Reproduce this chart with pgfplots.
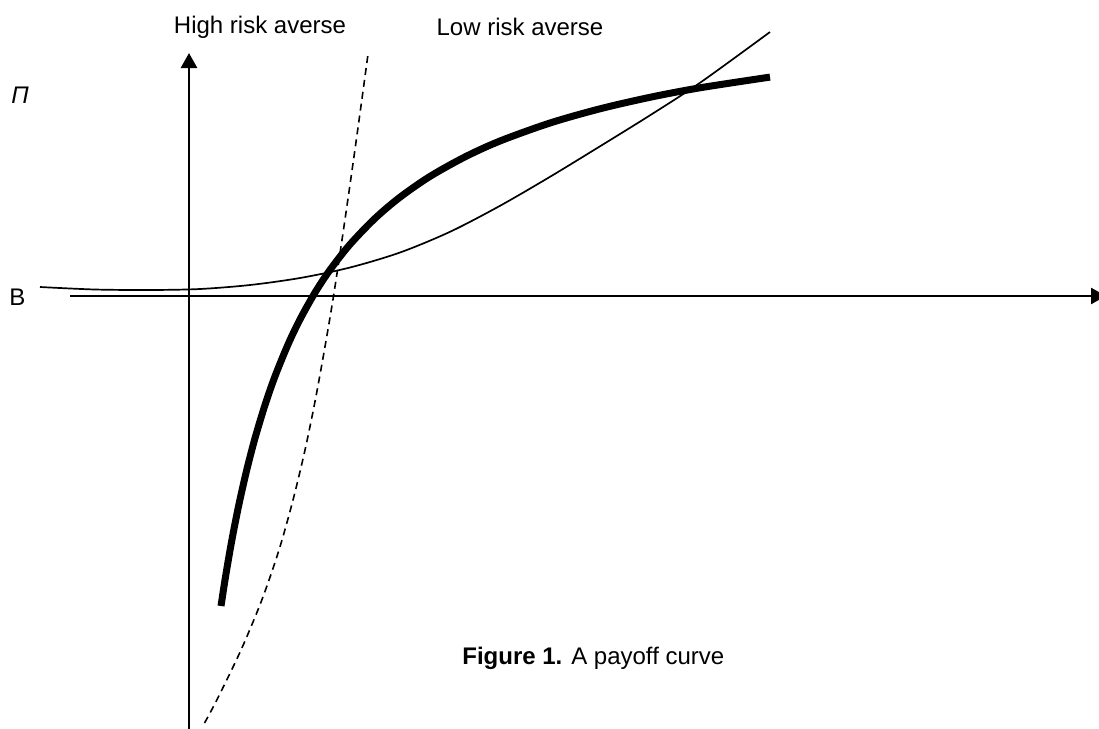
\documentclass[border=0pt]{standalone}
\usepackage{fontspec}
\setmainfont{Liberation Sans}
\usepackage{pgfplots}
\pgfplotsset{compat=1.18}
\usetikzlibrary{arrows.meta}

% curves, in pixel units (y grows downward)
\pgfplotstableread{
x y
221 606
225 580
230 550.4
235 523.7
240 499.4
247 468.9
255 438.2
265 405
275 376.3
288 344.5
300 319.4
315 292.6
330 269.9
350 244.4
375 218.4
400 197.2
430 176.4
465 156.9
500 141
550 123
600 108.8
650 97.3
700 87.8
770 77.1
}\payoff

\pgfplotstableread{
x y
40 287
95 289.5
150 290
200 289
250 285
300 278
350 267.5
400 252.5
450 231.8
500 205.8
550 176.8
600 146.3
650 115.3
700 82.8
770 32
}\lowrisk

\pgfplotstableread{
x y
204.5 723
216.8 700
241 650
261.8 600
279 550
293 500
305 450
315.3 400
324.4 350
332.9 300
340.5 250
347.8 200
354.9 150
361.8 100
367.9 55
}\highrisk

\begin{document}
\begin{tikzpicture}
\begin{axis}[
    scale only axis,
    width=549.5pt, height=364.5pt,
    xmin=0, xmax=1099, ymin=0, ymax=729,
    y dir=reverse,
    hide axis,
    clip=false]
  % axes
  \addplot[line width=1.3pt, -{Triangle[length=7.5pt,width=8pt]}]
    coordinates {(70,296) (1106,296)};
  \addplot[line width=1.3pt, -{Triangle[length=7.5pt,width=8pt]}]
    coordinates {(189,729) (189,53)};

  \addplot[smooth, line width=0.85pt] table {\lowrisk};
  \addplot[smooth, line width=0.8pt, dash pattern=on 3.5pt off 2.5pt] table {\highrisk};
  \addplot[smooth, line width=3.5pt] table {\payoff};

  \node[anchor=base, font=\fontsize{12}{14}\selectfont] at (axis cs:260,33) {High risk averse};
  \node[anchor=base, font=\fontsize{12}{14}\selectfont] at (axis cs:520,35) {Low risk averse};
  \node[anchor=base west, inner sep=0pt, font=\fontsize{12}{14}\selectfont\itshape] at (axis cs:11,103) {Π};
  \node[anchor=base west, inner sep=0pt, font=\fontsize{12}{14}\selectfont] at (axis cs:9,305) {B};
  \node[anchor=base west, inner sep=0pt, font=\fontsize{12}{14}\selectfont] at (axis cs:462,664)
    {\textbf{Figure 1.} A payoff curve};

  \coordinate (bl) at (axis cs:0,729);
  \coordinate (tr) at (axis cs:1099,0);
\end{axis}
\pgfresetboundingbox
\path (bl) rectangle (tr);
\end{tikzpicture}
\end{document}
